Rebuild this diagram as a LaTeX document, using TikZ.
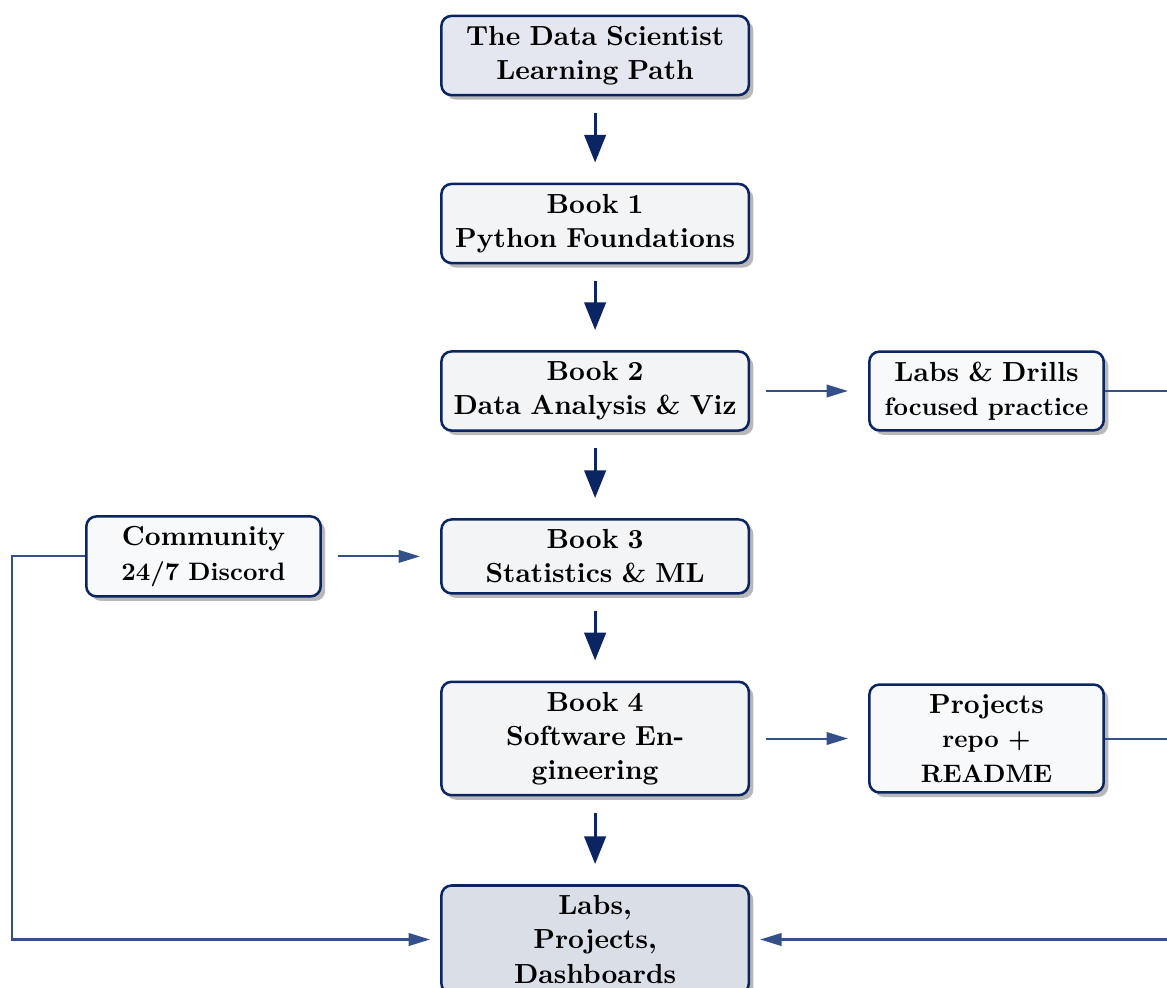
\documentclass[tikz,border=0pt]{standalone}
\usepackage{tikz}
\usetikzlibrary{arrows.meta,shadows}
\definecolor{navy}{HTML}{0B2462}
\definecolor{steel}{HTML}{34508A}
\definecolor{titlefill}{HTML}{E4E7EF}
\definecolor{bookfill}{HTML}{F3F4F6}
\definecolor{sidefill}{HTML}{F8F9FB}
\definecolor{goalfill}{HTML}{D9DEE7}
\def\sidesub{\fontsize{10}{12}\selectfont}

\tikzset{
	box/.style={draw=navy, line width=1pt, rounded corners=4pt, align=center,
		inner xsep=4pt, inner ysep=4pt, font=\fontsize{10.95}{13.6}\selectfont\bfseries,
		drop shadow={shadow xshift=1.8pt, shadow yshift=-1.8pt, fill=black!28, opacity=1}},
	mainbox/.style={box, text width=114pt, fill=bookfill},
	sidebox/.style={box, text width=85pt, fill=sidefill},
	mainarrow/.style={navy, line width=1.2pt, -{Triangle[length=11pt,width=8.5pt]},
		shorten <=6.5pt, shorten >=8pt},
	sidearrow/.style={steel, line width=0.8pt, -{Triangle[length=8.5pt,width=5pt]},
		shorten <=6.5pt, shorten >=8pt},
	loopline/.style={steel, line width=0.8pt, -{Triangle[length=8.5pt,width=5pt]},
		shorten >=4pt}
}

\begin{document}
\begin{tikzpicture}
			%%%%% START %%%%%
			
			\clip (0, 0) rectangle (16.276, -13.766);
			
			\node[mainbox, fill=titlefill] (title) at (8.3, -0.774) {The Data Scientist\\Learning Path};
			\node[mainbox] (book1) at (8.3, -3.117) {Book 1\\Python Foundations};
			\node[mainbox] (book2) at (8.3, -5.453) {Book 2\\Data Analysis \& Viz};
			\node[mainbox] (book3) at (8.3, -7.76) {Book 3\\Statistics \& ML};
			\node[mainbox] (book4) at (8.3, -10.3) {Book 4\\Software Engineering};
			\node[mainbox, fill=goalfill] (goal) at (8.3, -13.103) {Labs,\\Projects,\\Dashboards};
			
			\node[sidebox] (drills) at (13.759, -5.453) {Labs \& Drills\\\sidesub focused practice};
			\node[sidebox] (projects) at (13.759, -10.3) {Projects\\\sidesub repo + README};
			\node[sidebox] (community) at (2.838, -7.76) {Community\\\sidesub 24/7 Discord};
			
			\draw[mainarrow] (title) -- (book1);
			\draw[mainarrow] (book1) -- (book2);
			\draw[mainarrow] (book2) -- (book3);
			\draw[mainarrow] (book3) -- (book4);
			\draw[mainarrow] (book4) -- (goal);
			
			\draw[sidearrow] (book2) -- (drills);
			\draw[sidearrow] (book4) -- (projects);
			\draw[sidearrow] (community) -- (book3);
			
			\draw[loopline] (community.west) -- ++(-1.02, 0) |- (goal.west);
			\draw[loopline] (drills.east) -- ++(1.02, 0) |- (goal.east);
			\draw[steel, line width=0.8pt] (projects.east) -- ++(1.02, 0);
			
			%%%%% END %%%%%
\end{tikzpicture}
\end{document}
